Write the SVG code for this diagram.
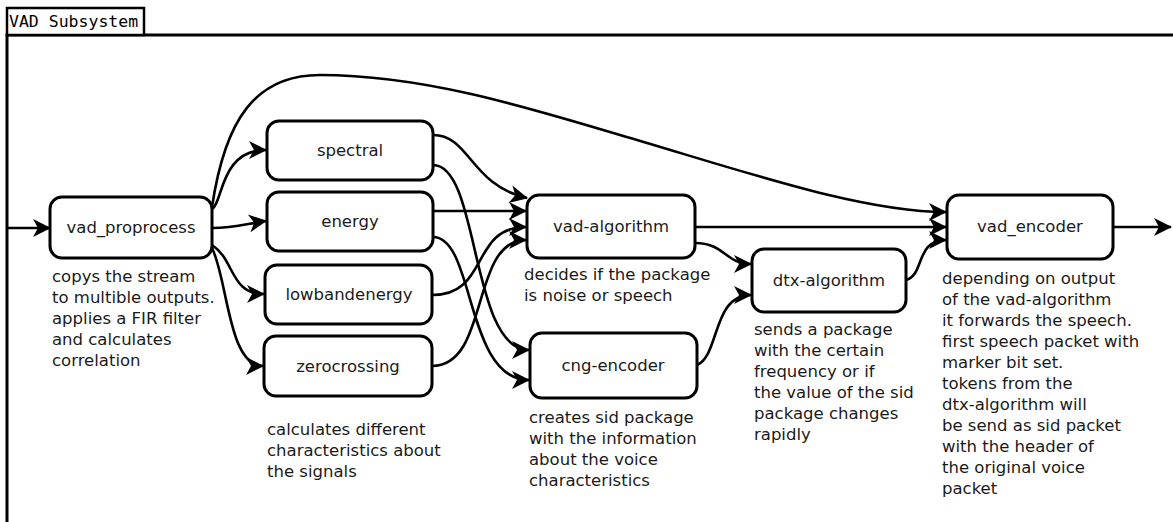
<svg xmlns="http://www.w3.org/2000/svg" width="1173" height="522" viewBox="0 0 1173 522">
  <style>
    .node rect { fill: #ffffff; stroke: #000000; stroke-width: 3; }
    .node text { font-family: "DejaVu Sans", "Liberation Sans", sans-serif; font-size: 16.5px; fill: #1a1a1a; text-anchor: middle; }
    .note { font-family: "DejaVu Sans", "Liberation Sans", sans-serif; font-size: 16.5px; fill: #1a1a1a; }
    .edge { fill: none; stroke: #000000; stroke-width: 2.6; marker-end: url(#arrow); }
    .frame { fill: none; stroke: #000000; stroke-width: 3; }
    .title { font-family: "DejaVu Sans Mono", "Liberation Mono", monospace; font-size: 16.5px; fill: #000000; }
  </style>
  <defs>
    <marker id="arrow" markerUnits="userSpaceOnUse" markerWidth="20" markerHeight="18" refX="17" refY="9" orient="auto" overflow="visible">
      <path d="M18,9 L0,0 L5,9 L0,18 Z" fill="#000000"/>
    </marker>
  </defs>
  <rect width="1173" height="522" fill="#ffffff"/>

  <!-- subsystem frame with its title tab -->
  <g id="frame">
    <path class="frame" d="M7,522 L7,35 L1173,35"/>
    <rect x="7" y="8" width="137" height="27" fill="#ffffff" stroke="#000000" stroke-width="2.5"/>
    <text class="title" x="9" y="27">VAD Subsystem</text>
  </g>

  <!-- connectors -->
  <g id="connectors">
    <path class="edge" d="M7,228 L50,228"/>
    <path class="edge" d="M212,209 C223,203 220,150 266,150"/>
    <path class="edge" d="M212,207 C225,120 255,75 320,75 C420,75 520,105 620,135 C740,170 860,212 946,212"/>
    <path class="edge" d="M212,228 C235,228 245,224 266,221"/>
    <path class="edge" d="M212,245 C235,260 230,294 264,294"/>
    <path class="edge" d="M212,248 C228,280 228,366 263,366"/>
    <path class="edge" d="M433,135 C470,135 470,185 527,198"/>
    <path class="edge" d="M433,211 L526,211"/>
    <path class="edge" d="M432,295 C490,295 470,227 526,227"/>
    <path class="edge" d="M432,366 C490,366 470,240 526,240"/>
    <path class="edge" d="M433,165 C480,165 470,350 529,350"/>
    <path class="edge" d="M433,237 C475,237 465,380 529,380"/>
    <path class="edge" d="M695,227 L946,227"/>
    <path class="edge" d="M695,243 C725,243 725,264 751,264"/>
    <path class="edge" d="M697,365 C720,355 712,295 751,295"/>
    <path class="edge" d="M906,280 C925,275 915,240 946,240"/>
    <path class="edge" d="M1113,227 L1171,227"/>
  </g>

  <g id="vad_proprocess" class="node">
    <rect x="50" y="197" width="162" height="61" rx="12"/>
    <text x="131" y="233">vad_proprocess</text>
  </g>
  <g id="spectral" class="node">
    <rect x="267" y="121" width="166" height="59" rx="12"/>
    <text x="350" y="156">spectral</text>
  </g>
  <g id="energy" class="node">
    <rect x="267" y="192" width="166" height="59" rx="12"/>
    <text x="350" y="227">energy</text>
  </g>
  <g id="lowbandenergy" class="node">
    <rect x="265" y="265" width="167" height="59" rx="12"/>
    <text x="349" y="300">lowbandenergy</text>
  </g>
  <g id="zerocrossing" class="node">
    <rect x="264" y="336" width="168" height="60" rx="12"/>
    <text x="348" y="372">zerocrossing</text>
  </g>
  <g id="vad-algorithm" class="node">
    <rect x="527" y="195" width="168" height="63" rx="12"/>
    <text x="611" y="232">vad-algorithm</text>
  </g>
  <g id="dtx-algorithm" class="node">
    <rect x="752" y="249" width="154" height="63" rx="12"/>
    <text x="829" y="286">dtx-algorithm</text>
  </g>
  <g id="cng-encoder" class="node">
    <rect x="530" y="333" width="167" height="65" rx="12"/>
    <text x="613" y="371">cng-encoder</text>
  </g>
  <g id="vad_encoder" class="node">
    <rect x="947" y="195" width="166" height="64" rx="12"/>
    <text x="1030" y="232">vad_encoder</text>
  </g>

  <!-- descriptions below the nodes -->
  <g id="notes">
    <text class="note" x="52" y="282">copys the stream</text>
    <text class="note" x="52" y="303">to multible outputs.</text>
    <text class="note" x="52" y="324">applies a FIR filter</text>
    <text class="note" x="52" y="345">and calculates</text>
    <text class="note" x="52" y="366">correlation</text>

    <text class="note" x="267" y="435">calculates different</text>
    <text class="note" x="267" y="456">characteristics about</text>
    <text class="note" x="267" y="477">the signals</text>

    <text class="note" x="524" y="280">decides if the package</text>
    <text class="note" x="524" y="301">is noise or speech</text>

    <text class="note" x="529" y="423">creates sid package</text>
    <text class="note" x="529" y="444">with the information</text>
    <text class="note" x="529" y="465">about the voice</text>
    <text class="note" x="529" y="486">characteristics</text>

    <text class="note" x="754" y="335">sends a package</text>
    <text class="note" x="754" y="356">with the certain</text>
    <text class="note" x="754" y="377">frequency or if</text>
    <text class="note" x="754" y="398">the value of the sid</text>
    <text class="note" x="754" y="419">package changes</text>
    <text class="note" x="754" y="440">rapidly</text>

    <text class="note" x="942" y="284">depending on output</text>
    <text class="note" x="942" y="305">of the vad-algorithm</text>
    <text class="note" x="942" y="326">it forwards the speech.</text>
    <text class="note" x="942" y="347">first speech packet with</text>
    <text class="note" x="942" y="368">marker bit set.</text>
    <text class="note" x="942" y="389">tokens from the</text>
    <text class="note" x="942" y="410">dtx-algorithm will</text>
    <text class="note" x="942" y="431">be send as sid packet</text>
    <text class="note" x="942" y="452">with the header of</text>
    <text class="note" x="942" y="473">the original voice</text>
    <text class="note" x="942" y="494">packet</text>
  </g>
</svg>
